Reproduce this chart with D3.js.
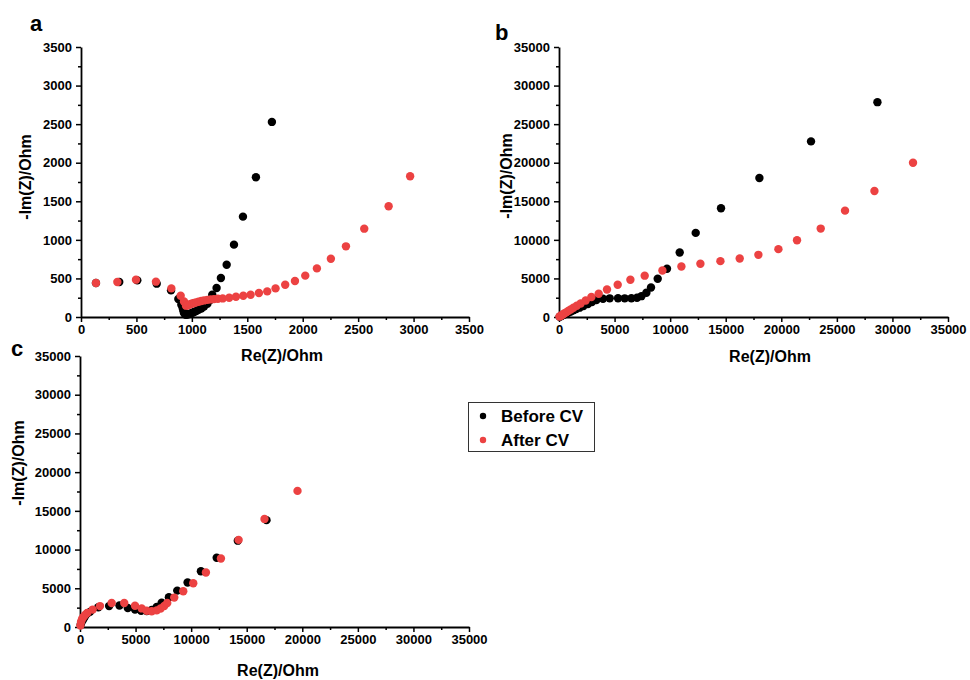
<!DOCTYPE html>
<html>
<head>
<meta charset="utf-8">
<title>EIS Nyquist plots</title>
<script src="https://cdn.jsdelivr.net/npm/d3@7"></script>
<style>
  body { margin: 0; background: #fff; }
  svg text { font-family: "Liberation Sans", Arial, sans-serif; font-weight: bold; fill: #000; }
</style>
</head>
<body>
<div id="chart"></div>
<script>
// Tick values
const ticksA = [0, 500, 1000, 1500, 2000, 2500, 3000, 3500];
const ticksBC = [0, 5000, 10000, 15000, 20000, 25000, 30000, 35000];

// Panel a  [Re(Z), -Im(Z)]
const aBefore = [
  [135, 440], [345, 454], [508, 475], [683, 432], [812, 345], [878, 233],
  [905, 160], [918, 110], [925, 75], [930, 50], [938, 35], [948, 30],
  [960, 32], [975, 38], [990, 45], [1005, 55], [1020, 65], [1040, 78],
  [1060, 92], [1085, 110], [1110, 135], [1140, 170], [1165, 220],
  [1184, 289], [1223, 376], [1262, 506], [1314, 678], [1380, 938],
  [1461, 1301], [1578, 1811], [1722, 2529]
];
const aAfter = [
  [135, 441], [328, 454], [496, 484], [676, 458], [815, 371], [899, 276],
  [929, 202], [947, 147], [960, 150], [975, 160], [990, 168], [1005, 175],
  [1020, 182], [1040, 190], [1060, 198], [1085, 207], [1110, 215],
  [1140, 222], [1170, 228], [1200, 232], [1235, 236], [1278, 241],
  [1337, 250], [1398, 263], [1464, 276], [1530, 289], [1605, 311],
  [1680, 332], [1755, 371], [1842, 419], [1930, 467], [2023, 536],
  [2128, 630], [2254, 756], [2390, 916], [2555, 1145], [2775, 1435],
  [2969, 1824]
];

// Panel b
const bBefore = [
  [60, 40], [150, 100], [260, 180], [380, 260], [520, 360], [680, 470],
  [860, 590], [1060, 720], [1290, 870], [1550, 1030], [1850, 1210],
  [2200, 1420], [2600, 1680], [2960, 1930], [3365, 2200], [3960, 2370],
  [4562, 2420], [5311, 2430], [5911, 2420], [6514, 2430], [7018, 2500],
  [7414, 2700], [7864, 3150], [8278, 3829], [8881, 4954], [9718, 6248],
  [10860, 8356], [12300, 10904], [14577, 14099], [18031, 18018],
  [22675, 22765], [28650, 27850]
];
const bAfter = [
  [40, 50], [110, 110], [210, 200], [330, 320], [470, 450], [640, 600],
  [830, 780], [1050, 980], [1300, 1200], [1600, 1450], [1950, 1750],
  [2402, 2147], [2915, 2587], [3572, 3014], [4319, 3570], [5282, 4178],
  [6424, 4825], [7711, 5357], [9304, 6028], [11013, 6545], [12723, 6894],
  [14523, 7242], [16259, 7580], [17941, 8059], [19741, 8796],
  [21415, 9949], [23548, 11461], [25735, 13789], [28382, 16337],
  [31853, 19998]
];

// Panel c
const cBefore = [
  [60, 300], [150, 650], [300, 1000], [450, 1400], [650, 1750], [900, 1950],
  [1650, 2550], [2620, 2700], [3550, 2780], [4300, 2450], [4950, 2250],
  [5500, 2100], [6000, 2050], [6450, 2200], [6900, 2600], [7350, 3150],
  [8000, 3850], [8750, 4700], [9680, 5750], [10880, 7200], [12300, 8950],
  [14200, 11150], [16780, 13800]
];
const cAfter = [
  [40, 200], [90, 650], [180, 1000], [300, 1300], [450, 1550], [650, 1800],
  [1140, 2250], [1800, 2700], [2850, 3100], [3980, 3100], [4950, 2750],
  [5550, 2400], [6000, 2100], [6450, 2030], [6900, 2150], [7250, 2380],
  [7580, 2720], [7850, 3100], [8480, 3800], [9290, 4620], [10190, 5650],
  [11330, 7030], [12680, 8850], [14270, 11250], [16600, 13960],
  [19570, 17580]
];

const seriesNames = ["Before CV", "After CV"];
const colors = ["#000000", "#ec4242"];

const svg = d3.select("#chart").append("svg")
  .attr("width", 970).attr("height", 680);

function drawPanel(p) {
  const x = d3.scaleLinear().domain([0, p.max]).range([p.x0, p.x1]);
  const y = d3.scaleLinear().domain([0, p.max]).range([p.y0, p.y1]);
  const g = svg.append("g");
  const step = p.ticks[1] - p.ticks[0];
  const minor = p.ticks.slice(0, -1).map(t => t + step / 2);
  const fmt = d3.format("d");

  // minor ticks
  g.append("g").attr("transform", `translate(0,${p.y0})`)
    .call(d3.axisBottom(x).tickValues(minor).tickSize(3).tickFormat(""))
    .call(a => a.select(".domain").remove());
  g.append("g").attr("transform", `translate(${p.x0},0)`)
    .call(d3.axisLeft(y).tickValues(minor).tickSize(3).tickFormat(""))
    .call(a => a.select(".domain").remove());

  const xa = g.append("g").attr("transform", `translate(0,${p.y0})`)
    .call(d3.axisBottom(x).tickValues(p.ticks).tickFormat(fmt).tickSize(5).tickSizeOuter(0).tickPadding(3));
  const ya = g.append("g").attr("transform", `translate(${p.x0},0)`)
    .call(d3.axisLeft(y).tickValues(p.ticks).tickFormat(fmt).tickSize(5).tickSizeOuter(0).tickPadding(4));
  [xa, ya].forEach(a => {
    a.selectAll("text").style("font-size", "13px").attr("font-family", null);
    a.select(".domain").attr("stroke-width", 1.8);
  });
  g.selectAll(".tick line").attr("stroke-width", 1.5);

  g.append("text").attr("x", p.xtX).attr("y", p.xtY)
    .attr("text-anchor", "middle").style("font-size", "16px").text("Re(Z)/Ohm");
  g.append("text")
    .attr("transform", `translate(${p.ytX},${p.ytY}) rotate(-90)`)
    .attr("text-anchor", "middle").style("font-size", "16px").text("-Im(Z)/Ohm");
  g.append("text").attr("x", p.lx).attr("y", p.ly)
    .style("font-size", "22px").text(p.letter);

  [p.before, p.after].forEach((data, i) => {
    g.append("g").selectAll("circle").data(data).join("circle")
      .attr("cx", d => x(d[0])).attr("cy", d => y(d[1]))
      .attr("r", 4.2).attr("fill", colors[i]);
  });
}

drawPanel({ letter: "a", max: 3500, ticks: ticksA, before: aBefore, after: aAfter,
  x0: 81, x1: 469, y0: 317, y1: 47, xtX: 282, xtY: 361, ytX: 31, ytY: 177, lx: 30, ly: 31 });
drawPanel({ letter: "b", max: 35000, ticks: ticksBC, before: bBefore, after: bAfter,
  x0: 559, x1: 948, y0: 317, y1: 47, xtX: 770, xtY: 362, ytX: 512, ytY: 176, lx: 495, ly: 40 });
drawPanel({ letter: "c", max: 35000, ticks: ticksBC, before: cBefore, after: cAfter,
  x0: 80, x1: 469, y0: 627, y1: 356, xtX: 278, xtY: 676, ytX: 24, ytY: 463, lx: 11, ly: 356 });

// legend
const lg = svg.append("g");
lg.append("rect").attr("x", 468.5).attr("y", 402.5).attr("width", 126).attr("height", 49)
  .attr("fill", "#fff").attr("stroke", "#333").attr("stroke-width", 1);
seriesNames.forEach((n, i) => {
  lg.append("circle").attr("cx", 483).attr("cy", 416 + i * 24).attr("r", 3.2).attr("fill", colors[i]);
  lg.append("text").attr("x", 501).attr("y", 422 + i * 24).style("font-size", "17px").text(n);
});
</script>
</body>
</html>
